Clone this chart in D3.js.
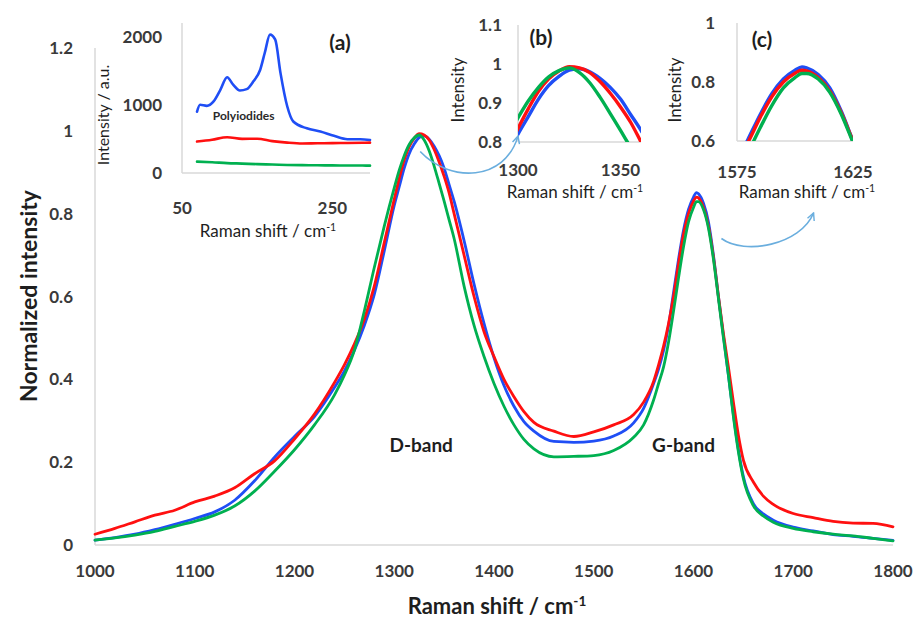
<!DOCTYPE html>
<html>
<head>
<meta charset="utf-8">
<script src="https://cdn.jsdelivr.net/npm/d3@7"></script>
<style>
  html, body { margin: 0; padding: 0; background: #fff; }
  svg { display: block; font-family: Lato, "Open Sans", sans-serif; }
</style>
</head>
<body>
<svg id="chart" width="915" height="621"></svg>
<script>
// Raman spectra (normalized), shared by the main plot and the zoomed insets (b) and (c)
const ramanShift = [
  1000, 1020, 1040, 1060, 1080, 1100, 1120, 1140, 1160, 1180,
  1200, 1220, 1240, 1250, 1260, 1270, 1280, 1290, 1300, 1305,
  1310, 1315, 1320, 1325, 1330, 1335, 1340, 1345, 1350, 1355,
  1360, 1370, 1380, 1390, 1400, 1410, 1420, 1430, 1440, 1460,
  1480, 1500, 1520, 1540, 1550, 1560, 1565, 1570, 1575, 1580,
  1585, 1590, 1595, 1600, 1603, 1605, 1610, 1615, 1620, 1625,
  1630, 1635, 1640, 1645, 1650, 1660, 1670, 1680, 1700, 1720,
  1740, 1760, 1780, 1800
];
const intensityBlue = [
  0.012, 0.018, 0.026, 0.037, 0.050, 0.064, 0.080, 0.108, 0.155, 0.212,
  0.262, 0.310, 0.380, 0.420, 0.470, 0.530, 0.605, 0.710, 0.820, 0.865,
  0.910, 0.945, 0.968, 0.984, 0.988, 0.980, 0.963, 0.940, 0.910, 0.870,
  0.830, 0.735, 0.630, 0.535, 0.452, 0.385, 0.335, 0.298, 0.275, 0.250,
  0.248, 0.251, 0.263, 0.295, 0.330, 0.390, 0.425, 0.470, 0.530, 0.610,
  0.690, 0.760, 0.810, 0.840, 0.851, 0.848, 0.825, 0.780, 0.700, 0.600,
  0.505, 0.410, 0.315, 0.230, 0.165, 0.100, 0.075, 0.060, 0.043, 0.034,
  0.025, 0.021, 0.016, 0.011
];
const intensityRed = [
  0.026, 0.040, 0.056, 0.072, 0.084, 0.104, 0.118, 0.138, 0.172, 0.203,
  0.256, 0.316, 0.392, 0.435, 0.485, 0.545, 0.625, 0.730, 0.835, 0.885,
  0.930, 0.962, 0.982, 0.993, 0.990, 0.978, 0.955, 0.925, 0.890, 0.850,
  0.800, 0.700, 0.600, 0.515, 0.455, 0.400, 0.358, 0.322, 0.296, 0.275,
  0.262, 0.273, 0.290, 0.315, 0.345, 0.395, 0.435, 0.480, 0.535, 0.600,
  0.680, 0.750, 0.800, 0.830, 0.840, 0.838, 0.815, 0.770, 0.695, 0.600,
  0.510, 0.430, 0.345, 0.265, 0.205, 0.152, 0.118, 0.098, 0.076, 0.066,
  0.057, 0.053, 0.052, 0.044
];
const intensityGreen = [
  0.012, 0.017, 0.024, 0.033, 0.045, 0.057, 0.072, 0.094, 0.130, 0.178,
  0.230, 0.290, 0.362, 0.410, 0.470, 0.565, 0.670, 0.770, 0.862, 0.905,
  0.940, 0.967, 0.983, 0.990, 0.978, 0.952, 0.915, 0.873, 0.830, 0.785,
  0.740, 0.625, 0.530, 0.455, 0.390, 0.335, 0.290, 0.255, 0.232, 0.213,
  0.214, 0.216, 0.228, 0.260, 0.290, 0.350, 0.390, 0.430, 0.490, 0.565,
  0.645, 0.720, 0.780, 0.815, 0.829, 0.829, 0.810, 0.765, 0.690, 0.595,
  0.500, 0.410, 0.310, 0.225, 0.160, 0.095, 0.070, 0.055, 0.040, 0.032,
  0.026, 0.022, 0.016, 0.010
];

// Low-frequency region (inset a), raw intensity in a.u.
const lowShiftBlue = [70, 74, 83, 92, 101, 110, 118, 127, 136, 145, 154, 160, 167, 174, 181, 190, 198, 216, 234, 252, 270, 287, 300];
const lowBlue      = [900, 1000, 985, 1050, 1220, 1405, 1295, 1210, 1230, 1345, 1515, 1760, 2030, 1955, 1465, 975, 755, 655, 608, 545, 495, 495, 485];
const lowShift     = [70, 90, 110, 130, 150, 170, 190, 210, 230, 250, 270, 290, 300];
const lowRed       = [462, 488, 525, 500, 503, 468, 445, 432, 436, 438, 440, 443, 446];
const lowGreen     = [167, 158, 145, 138, 130, 125, 118, 115, 113, 112, 110, 109, 108];

// Tick values
const mainXTicks = [1000, 1100, 1200, 1300, 1400, 1500, 1600, 1700, 1800];
const mainYTicks = [0, 0.2, 0.4, 0.6, 0.8, 1, 1.2];
const insetAXTicks = [50, 250];
const insetAYTicks = [0, 1000, 2000];
const insetBXTicks = [1300, 1350];
const insetBYTicks = [0.8, 0.9, 1, 1.1];
const insetCXTicks = [1575, 1625];
const insetCYTicks = [0.6, 0.8, 1];

const COLORS = { blue: "#1f4ef5", red: "#ff1010", green: "#00b050" };
const AXIS_GREY = "#d9d9d9";
const TICK_COLOR = "#3a3a3a";
const TITLE_COLOR = "#1e1e1e";

const svg = d3.select("#chart");
const defs = svg.append("defs");

const fmt = v => String(+v.toFixed(2));

function series(xs, ys) { return xs.map((x, i) => [x, ys[i]]); }
const spectra = [
  { name: "blue", pts: series(ramanShift, intensityBlue) },
  { name: "red", pts: series(ramanShift, intensityRed) },
  { name: "green", pts: series(ramanShift, intensityGreen) }
];

// Draws one panel: axes lines, tick labels and titles
function panel(g, cfg) {
  const { x, y } = cfg;
  const [x0, x1] = x.range();
  const [yb, yt] = y.range();
  g.append("line").attr("x1", x0).attr("x2", x0).attr("y1", yt).attr("y2", yb)
    .attr("stroke", AXIS_GREY).attr("stroke-width", 1.5);
  g.append("line").attr("x1", x0).attr("x2", x1).attr("y1", yb).attr("y2", yb)
    .attr("stroke", AXIS_GREY).attr("stroke-width", 1.5);

  g.selectAll("text.yt").data(cfg.yTicks).join("text")
    .attr("class", "yt")
    .attr("x", x0 - cfg.yLabelGap).attr("y", d => y(d)).attr("dy", "0.36em")
    .attr("text-anchor", "end").attr("font-size", cfg.tickSize).attr("font-weight", 700)
    .attr("fill", TICK_COLOR).text(cfg.yFormat || fmt);

  g.selectAll("text.xt").data(cfg.xTicks).join("text")
    .attr("class", "xt")
    .attr("x", d => x(d)).attr("y", yb + cfg.xLabelGap).attr("dy", "0.36em")
    .attr("text-anchor", "middle").attr("font-size", cfg.tickSize).attr("font-weight", 700)
    .attr("fill", TICK_COLOR).text(d => String(d));
}

function ramanTitle(g, cx, cy, size, weight) {
  const t = g.append("text").attr("x", cx).attr("y", cy).attr("text-anchor", "middle")
    .attr("font-size", size).attr("font-weight", weight).attr("fill", TITLE_COLOR);
  t.append("tspan").text("Raman shift / cm");
  t.append("tspan").attr("dy", -size * 0.38).attr("font-size", size * 0.62).text("-1");
}

function rotatedTitle(g, cx, cy, size, weight, text) {
  g.append("text").attr("transform", `translate(${cx},${cy}) rotate(-90)`)
    .attr("text-anchor", "middle").attr("dy", "0.35em")
    .attr("font-size", size).attr("font-weight", weight).attr("fill", TITLE_COLOR).text(text);
}

function drawLines(g, x, y, data, width, clipId) {
  const line = d3.line().x(d => x(d[0])).y(d => y(d[1])).curve(d3.curveMonotoneX);
  const lg = g.append("g");
  if (clipId) lg.attr("clip-path", `url(#${clipId})`);
  lg.selectAll("path").data(data).join("path")
    .attr("d", d => line(d.pts)).attr("fill", "none")
    .attr("stroke", d => COLORS[d.name]).attr("stroke-width", width)
    .attr("stroke-linejoin", "round").attr("stroke-linecap", "round");
}

function addClip(id, x, y) {
  const [x0, x1] = x.range();
  const [yb, yt] = y.range();
  defs.append("clipPath").attr("id", id).append("rect")
    .attr("x", x0).attr("y", yt).attr("width", x1 - x0).attr("height", yb - yt);
}

// ---------- Main plot ----------
const xMain = d3.scaleLinear().domain([1000, 1800]).range([95, 893]);
const yMain = d3.scaleLinear().domain([0, 1.2]).range([545, 48]);
const gMain = svg.append("g");
panel(gMain, { x: xMain, y: yMain, xTicks: mainXTicks, yTicks: mainYTicks,
  tickSize: 17, yLabelGap: 22, xLabelGap: 26 });
drawLines(gMain, xMain, yMain, spectra, 2.8, null);
rotatedTitle(gMain, 29, 296, 23, 700, "Normalized intensity");
ramanTitle(gMain, 497, 614, 22, 700);

gMain.append("text").attr("x", xMain(1327)).attr("y", yMain(0.225)).attr("text-anchor", "middle")
  .attr("font-size", 19).attr("font-weight", 700).attr("fill", TITLE_COLOR).text("D-band");
gMain.append("text").attr("x", xMain(1590)).attr("y", yMain(0.225)).attr("text-anchor", "middle")
  .attr("font-size", 19).attr("font-weight", 700).attr("fill", TITLE_COLOR).text("G-band");

// ---------- Inset (a): low-frequency polyiodide bands ----------
const xA = d3.scaleLinear().domain([50, 300]).range([182, 370]);
const yA = d3.scaleLinear().domain([0, 2200]).range([173, 23]);
const gA = svg.append("g");
panel(gA, { x: xA, y: yA, xTicks: insetAXTicks, yTicks: insetAYTicks,
  tickSize: 17, yLabelGap: 20, xLabelGap: 35, yFormat: d => String(d) });
drawLines(gA, xA, yA, [
  { name: "blue", pts: series(lowShiftBlue, lowBlue) },
  { name: "red", pts: series(lowShift, lowRed) },
  { name: "green", pts: series(lowShift, lowGreen) }
], 2.6, null);
rotatedTitle(gA, 103, 115, 16, 400, "Intensity / a.u.");
ramanTitle(gA, 268, 237, 17, 400);
gA.append("text").attr("x", 340).attr("y", 50).attr("text-anchor", "middle")
  .attr("font-size", 21).attr("font-weight", 700).attr("fill", TITLE_COLOR).text("(a)");
gA.append("text").attr("x", xA(132)).attr("y", yA(780)).attr("text-anchor", "middle")
  .attr("font-size", 12).attr("font-weight", 700).attr("fill", "#2a2a2a").text("Polyiodides");

// ---------- Inset (b): D-band maximum ----------
const xB = d3.scaleLinear().domain([1300, 1360]).range([518, 641]);
const yB = d3.scaleLinear().domain([0.8, 1.1]).range([142, 25]);
addClip("clipB", xB, yB);
const gB = svg.append("g");
panel(gB, { x: xB, y: yB, xTicks: insetBXTicks, yTicks: insetBYTicks,
  tickSize: 17, yLabelGap: 16, xLabelGap: 28 });
drawLines(gB, xB, yB, spectra, 3.4, "clipB");
rotatedTitle(gB, 458, 90, 17, 400, "Intensity");
ramanTitle(gB, 575, 198, 17, 400);
gB.append("text").attr("x", 541).attr("y", 45).attr("text-anchor", "middle")
  .attr("font-size", 21).attr("font-weight", 700).attr("fill", TITLE_COLOR).text("(b)");

// ---------- Inset (c): G-band maximum ----------
const xC = d3.scaleLinear().domain([1575, 1625]).range([737, 853]);
const yC = d3.scaleLinear().domain([0.6, 1.0]).range([141, 23]);
addClip("clipC", xC, yC);
const gC = svg.append("g");
panel(gC, { x: xC, y: yC, xTicks: insetCXTicks, yTicks: insetCYTicks,
  tickSize: 17, yLabelGap: 22, xLabelGap: 31 });
drawLines(gC, xC, yC, spectra, 3.4, "clipC");
rotatedTitle(gC, 675, 90, 17, 400, "Intensity");
ramanTitle(gC, 807, 198, 17, 400);
gC.append("text").attr("x", 762).attr("y", 47).attr("text-anchor", "middle")
  .attr("font-size", 21).attr("font-weight", 700).attr("fill", TITLE_COLOR).text("(c)");

// ---------- Curved arrows linking the peaks to their insets ----------
const ARROW = "#6aaede";
defs.append("marker").attr("id", "head").attr("viewBox", "0 0 10 10")
  .attr("refX", 9).attr("refY", 5).attr("markerWidth", 9).attr("markerHeight", 9)
  .attr("markerUnits", "userSpaceOnUse").attr("orient", "auto")
  .append("path").attr("d", "M1,1 L9,5 L1,9").attr("fill", "none")
  .attr("stroke", ARROW).attr("stroke-width", 1.6);

function arrow(p0, p1, p2, p3) {
  const p = d3.path();
  p.moveTo(...p0);
  p.bezierCurveTo(...p1, ...p2, ...p3);
  svg.append("path").attr("d", p.toString()).attr("fill", "none")
    .attr("stroke", ARROW).attr("stroke-width", 1.6).attr("marker-end", "url(#head)");
}
// D peak -> inset (b)
const dStart = [xMain(1326), yMain(0.95)];
const dEnd = [xB(1300), yB(0.815)];
arrow(dStart, [dStart[0] + 30, dStart[1] + 32], [dEnd[0] - 13, dEnd[1] + 45], dEnd);
// G peak -> inset (c)
const gStart = [xMain(1628), yMain(0.74)];
const gEnd = [xC(1608), yC(0.6) + 72];
arrow(gStart, [gStart[0] + 23, gStart[1] + 17], [gEnd[0] - 13, gEnd[1] + 32], gEnd);
</script>
</body>
</html>
